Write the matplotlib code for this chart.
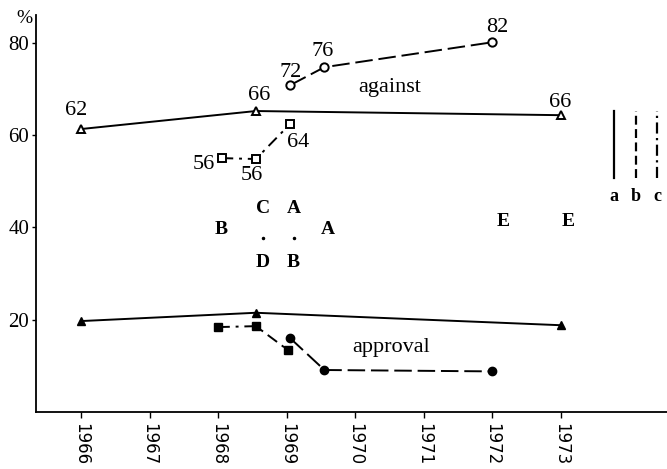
import matplotlib
matplotlib.use("Agg")
import matplotlib.pyplot as plt

plt.rcParams['font.family'] = ['Liberation Serif', 'DejaVu Serif']

# against (open markers)
ag_tri_x = [1966, 1968.55, 1973]
ag_tri_y = [61.3, 65.2, 64.3]
ag_tri_lab = ['62', '66', '66']

ag_circ_x = [1969.05, 1969.55, 1972.0]
ag_circ_y = [70.8, 74.7, 80.1]
ag_circ_lab = ['72', '76', '82']

ag_sq_x = [1968.05, 1968.55, 1969.05]
ag_sq_y = [55.0, 54.8, 62.4]
ag_sq_lab = ['56', '56', '64']

# approval (filled markers)
ap_tri_x = [1966, 1968.55, 1973]
ap_tri_y = [19.7, 21.5, 18.8]

ap_sq_x = [1968.0, 1968.55, 1969.02]
ap_sq_y = [18.4, 18.6, 13.4]

ap_circ_x = [1969.05, 1969.55, 1972.0]
ap_circ_y = [16.0, 9.1, 8.8]

years = [1966, 1967, 1968, 1969, 1970, 1971, 1972, 1973]
y_ticks = [20, 40, 60, 80]

# letters in the middle
letters = ['B', 'C', 'A', 'D', 'B', 'A', 'E', 'E']
letter_x = [1968.05, 1968.65, 1969.1, 1968.65, 1969.1, 1969.6, 1972.15, 1973.1]
letter_y = [39.6, 44, 44, 32.3, 32.3, 39.6, 41.2, 41.2]
dot_x = [1968.65, 1969.1]
dot_y = [37.7, 37.7]

dashed = (0, (9, 3))
dashdot = (0, (6, 3, 1.5, 3))

fig = plt.figure(figsize=(6.67, 4.69), dpi=100)
ax = fig.add_axes([0.054, 0.1215, 0.946, 0.8465])

lw = 1.4
ax.plot(ag_tri_x, ag_tri_y, '-', color='black', lw=lw, marker='^', mfc='white', mec='black', ms=6, mew=1.4)
ax.plot(ag_circ_x, ag_circ_y, linestyle=dashed, color='black', lw=lw, marker='o', mfc='white', mec='black', ms=6, mew=1.4)
ax.plot(ag_sq_x, ag_sq_y, linestyle=dashdot, color='black', lw=lw, marker='s', mfc='white', mec='black', ms=6, mew=1.4)

ax.plot(ap_tri_x, ap_tri_y, '-', color='black', lw=lw, marker='^', ms=6)
ax.plot(ap_sq_x, ap_sq_y, linestyle=dashdot, color='black', lw=lw, marker='s', ms=6)
ax.plot(ap_circ_x, ap_circ_y, linestyle=dashed, color='black', lw=lw, marker='o', ms=6)

fs = 16
# value labels (offsets in points)
tri_off = [(-3.6, 13.7), (2, 11), (-0.7, 9.4)]
circ_off = [(0, 9), (-1.5, 11), (3.6, 10.8)]
sq_off = [(-13, -4.3), (-3, -11.5), (5.8, -13.7)]
for xs, ys, labs, offs in [(ag_tri_x, ag_tri_y, ag_tri_lab, tri_off),
                           (ag_circ_x, ag_circ_y, ag_circ_lab, circ_off),
                           (ag_sq_x, ag_sq_y, ag_sq_lab, sq_off)]:
    for x, y, t, o in zip(xs, ys, labs, offs):
        ax.annotate(t, (x, y), xytext=o, textcoords='offset points',
                    ha='center', va='center', fontsize=fs)

for t, x, y in zip(letters, letter_x, letter_y):
    ax.text(x, y, t, ha='center', va='center', fontsize=14, fontweight='bold')
ax.plot(dot_x, dot_y, '.', color='black', ms=3)

ax.text(1970.04, 70.2, 'against', ha='left', va='center', fontsize=fs)
ax.text(1969.95, 14, 'approval', ha='left', va='center', fontsize=fs)

# line style key on the right
key_x = [0.916, 0.951, 0.984]
key_styles = ['-', (0, (4, 2)), (0, (5, 2, 1, 2))]
key_labels = ['a', 'b', 'c']
for kx, ks, kl in zip(key_x, key_styles, key_labels):
    ax.plot([kx, kx], [0.589, 0.758], transform=ax.transAxes, color='black', lw=1.6, linestyle=ks, clip_on=False)
    ax.text(kx, 0.542, kl, transform=ax.transAxes, ha='center', va='center', fontsize=13, fontweight='bold')

ax.set_xlim(1965.344, 1974.546)
ax.set_ylim(0, 86)
ax.set_xticks(years)
ax.set_xticklabels([str(y) for y in years], rotation=-90, fontsize=12,
                   family=['DejaVu Sans'])
ax.set_yticks(y_ticks)
ax.set_yticklabels([str(v) for v in y_ticks], fontsize=15)
ax.tick_params(axis='x', direction='out', length=4, width=1, pad=4)
ax.tick_params(axis='y', direction='out', length=3, width=1, pad=2)
ax.spines['top'].set_visible(False)
ax.spines['right'].set_visible(False)
ax.spines['left'].set_linewidth(1.3)
ax.spines['bottom'].set_linewidth(1.3)
ax.text(-0.019, 0.99, '%', transform=ax.transAxes, ha='center', va='center', fontsize=14)

fig.savefig('out.png', dpi=100)
